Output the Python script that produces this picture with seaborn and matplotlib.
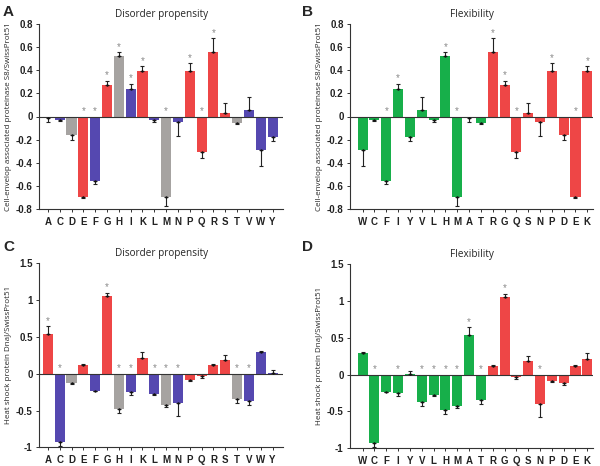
import numpy as np
import pandas as pd
import matplotlib
matplotlib.use("Agg")
import matplotlib.pyplot as plt
import seaborn as sns

sns.set_style("white")
plt.rcParams['font.family'] = ['Liberation Sans', 'DejaVu Sans']

# Amino-acid orders
order_disorder = ["A", "C", "D", "E", "F", "G", "H", "I", "K", "L",
                  "M", "N", "P", "Q", "R", "S", "T", "V", "W", "Y"]
order_flex = ["W", "C", "F", "I", "Y", "V", "L", "H", "M", "A",
              "T", "R", "G", "Q", "S", "N", "P", "D", "E", "K"]

# Colour groups for disorder propensity (red=disorder promoting, blue=order promoting, gray=ambiguous)
disorder_group = ["red", "blue", "gray", "red", "blue", "red", "gray", "blue", "red", "blue",
                  "gray", "blue", "red", "red", "red", "red", "gray", "blue", "blue", "blue"]
# Flexibility: first 11 green (rigid), rest red (flexible)
flex_group = ["green"] * 11 + ["red"] * 9

# Cell-envelop associated proteinase S8 / SwissProt51 (in order_disorder)
s8_values = [-0.01, -0.03, -0.16, -0.70, -0.555, 0.27, 0.525, 0.235, 0.395, -0.03,
             -0.70, -0.045, 0.395, -0.31, 0.56, 0.03, -0.06, 0.06, -0.29, -0.175]
s8_errors = [0.04, 0.01, 0.04, 0.005, 0.03, 0.04, 0.03, 0.05, 0.04, 0.02,
             0.07, 0.12, 0.065, 0.05, 0.115, 0.09, 0.005, 0.105, 0.135, 0.04]
s8_star = ["E", "F", "G", "H", "I", "K", "M", "P", "Q", "R"]

# Heat shock protein DnaJ / SwissProt51 (in order_disorder)
dnaj_values = [0.535, -0.93, -0.12, 0.12, -0.23, 1.05, -0.48, -0.25, 0.21, -0.27,
               -0.42, -0.40, -0.085, -0.025, 0.115, 0.18, -0.34, -0.37, 0.30, 0.01]
dnaj_errors = [0.11, 0.05, 0.02, 0.01, 0.005, 0.05, 0.06, 0.035, 0.08, 0.025,
               0.035, 0.17, 0.01, 0.035, 0.02, 0.08, 0.06, 0.06, 0.01, 0.04]
dnaj_star = ["A", "C", "G", "H", "I", "L", "M", "N", "T", "V"]

palette = {"red": "#EE4646", "blue": "#5548B0", "gray": "#A6A3A1", "green": "#17AF4A"}

fig = plt.figure(figsize=(6.0, 4.66), dpi=100)

panels = [
    ("A", "Disorder propensity", s8_values, s8_errors, s8_star, order_disorder, "disorder",
     "Cell-envelop associated proteinase S8/SwissProt51", (-0.8, 0.8),
     [-0.8, -0.6, -0.4, -0.2, 0, 0.2, 0.4, 0.6, 0.8],
     ["-0.8", "-0.6", "-0.4", "-0.2", "0", "0.2", "0.4", "0.6", "0.8"],
     [0.065, 0.5515, 0.407, 0.397], (-0.75, 19.9), (0.005, 0.99)),
    ("B", "Flexibility", s8_values, s8_errors, s8_star, order_flex, "flex",
     "Cell-envelop associated proteinase S8/SwissProt51", (-0.8, 0.8),
     [-0.8, -0.6, -0.4, -0.2, 0, 0.2, 0.4, 0.6, 0.8],
     ["-0.8", "-0.6", "-0.4", "-0.2", "0", "0.2", "0.4", "0.6", "0.8"],
     [0.5833, 0.5515, 0.405, 0.397], (-1.07, 19.48), (0.503, 0.99)),
    ("C", "Disorder propensity", dnaj_values, dnaj_errors, dnaj_star, order_disorder, "disorder",
     "Heat shock protein DnaJ/SwissProt51", (-1.0, 1.5),
     [-1, -0.5, 0, 0.5, 1, 1.5], ["-1", "-0.5", "0", "0.5", "1", "1.5"],
     [0.065, 0.040, 0.407, 0.395], (-0.75, 19.9), (0.005, 0.485)),
    ("D", "Flexibility", dnaj_values, dnaj_errors, dnaj_star, order_flex, "flex",
     "Heat shock protein DnaJ/SwissProt51", (-1.0, 1.5),
     [-1, -0.5, 0, 0.5, 1, 1.5], ["-1", "-0.5", "0", "0.5", "1", "1.5"],
     [0.5833, 0.038, 0.405, 0.395], (-1.07, 19.48), (0.503, 0.485)),
]

for (letter, title, vals, errs, stars, order, gkind, ylabel, ylim, yticks, yticklabels,
     rect, xlim, lpos) in panels:
    ax = fig.add_axes(rect)
    val_map = dict(zip(order_disorder, vals))
    err_map = dict(zip(order_disorder, errs))
    if gkind == "disorder":
        grp_map = dict(zip(order_disorder, disorder_group))
    else:
        grp_map = dict(zip(order_flex, flex_group))
    df = pd.DataFrame({
        "aa": order,
        "value": [val_map[a] for a in order],
        "err": [err_map[a] for a in order],
        "group": [grp_map[a] for a in order],
    })
    sns.barplot(data=df, x="aa", y="value", hue="group", palette=palette, order=order,
                dodge=False, width=0.85, saturation=1, errorbar=None, legend=False, ax=ax,
                linewidth=0)
    # one-sided error bars pointing away from zero
    xs = np.arange(len(order))
    v = df["value"].to_numpy()
    e = df["err"].to_numpy()
    lower = np.where(v < 0, e, 0)
    upper = np.where(v >= 0, e, 0)
    ax.errorbar(xs, v, yerr=[lower, upper], fmt="none", ecolor="#222222",
                elinewidth=0.8, capsize=1.6, capthick=0.8)
    ax.scatter(xs, v, s=3, color="#111111", zorder=5, linewidths=0)
    # significance stars
    rng = ylim[1] - ylim[0]
    off = rng * 0.03
    for i, a in enumerate(order):
        if a in stars:
            if v[i] >= 0:
                ys = v[i] + e[i] + off
            else:
                ys = off
            ax.text(i, ys, "*", ha="center", va="center", fontsize=7, color="#8a8a8a")
    ax.axhline(0, color="#333333", lw=0.8, zorder=4)
    ax.set_xlim(*xlim)
    ax.set_ylim(*ylim)
    ax.set_yticks(yticks)
    ax.set_yticklabels(yticklabels)
    ax.set_xlabel("")
    ax.set_ylabel(ylabel, fontsize=5.8, family=["Open Sans", "DejaVu Sans"], labelpad=3)
    ax.set_title(title, fontsize=7.2, family=["Open Sans", "DejaVu Sans"], pad=5)
    for s in ["top", "right"]:
        ax.spines[s].set_visible(False)
    for s in ["left", "bottom"]:
        ax.spines[s].set_color("#333333")
        ax.spines[s].set_linewidth(0.8)
    ax.tick_params(axis="both", which="both", direction="out", length=2.5, width=0.7,
                   color="#333333", labelsize=7, pad=2, left=True, bottom=True)
    for lab in ax.get_xticklabels() + ax.get_yticklabels():
        lab.set_fontweight("bold")
        lab.set_color("#222222")
    ax.tick_params(axis="x", pad=3)
    fig.text(lpos[0], lpos[1], letter, fontsize=11, fontweight="bold",
             ha="left", va="top")

fig.savefig("out.png", dpi=100)
